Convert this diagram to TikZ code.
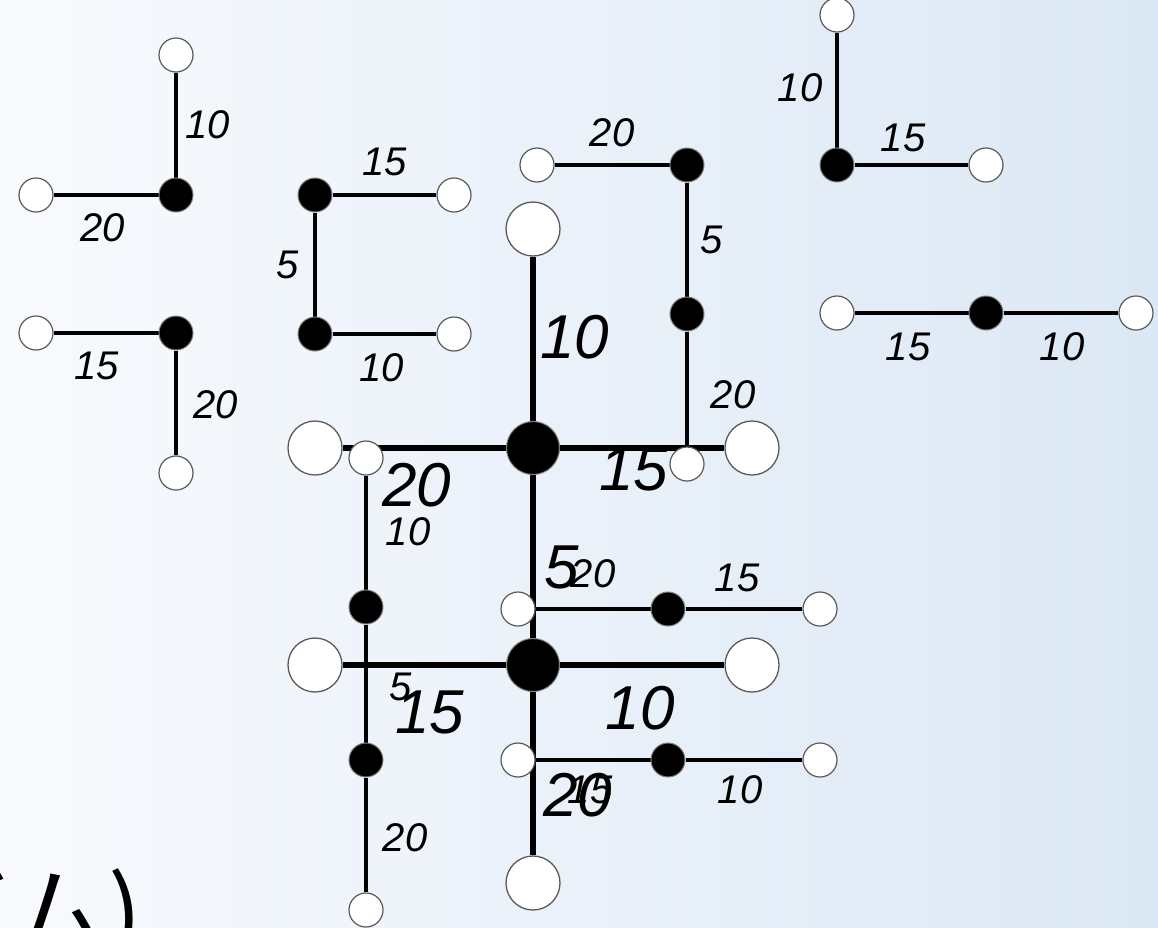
\documentclass[tikz,border=0pt]{standalone}
\usepackage{fontspec}
\setmainfont{Liberation Sans}
\newfontfamily\jpfont{Noto Sans CJK JP}
\pgfdeclarelayer{bg}
\pgfdeclarelayer{edges}
\pgfsetlayers{bg,edges,main}
\definecolor{bgleft}{RGB}{248,250,253}
\definecolor{bgright}{RGB}{220,232,245}
\begin{document}
\begin{tikzpicture}[x=1pt,y=-1pt,
  wn/.style={circle,fill=white,draw=black!65,line width=1.2pt,minimum size=34pt,inner sep=0pt},
  bn/.style={circle,fill=black,draw=black!50,line width=1pt,minimum size=34pt,inner sep=0pt},
  bigw/.style={circle,fill=white,draw=black!65,line width=1.3pt,minimum size=54pt,inner sep=0pt},
  bigb/.style={circle,fill=black,draw=black!50,line width=1pt,minimum size=53pt,inner sep=0pt},
  thinedge/.style={line width=3.3pt},
  thickedge/.style={line width=5.4pt},
  sl/.style={font=\fontsize{40}{48}\selectfont\itshape,inner sep=0pt},
  ll/.style={font=\fontsize{62}{70}\selectfont\itshape,inner sep=0pt}]
\useasboundingbox (0,0) rectangle (1158,927);
\clip (0,0) rectangle (1158,927);
\begin{pgfonlayer}{bg}
\shade[left color=bgleft,right color=bgright] (0,0) rectangle (1158,927);
\end{pgfonlayer}

% Japanese caption (cut off)
\node[anchor=base east,inner sep=0pt,font=\jpfont\fontsize{100}{110}\selectfont] (cap) at (143,950) {ズム)};

% tree 1
\node[wn] (a1) at (176,55) {};
\node[bn] (a2) at (176,195) {};
\node[wn] (a3) at (36,195) {};
\node[sl] (la1) at (208,125) {10};
\node[sl] (la2) at (103,228) {20};
% tree 2
\node[wn] (b1) at (36,333) {};
\node[bn] (b2) at (176,333) {};
\node[wn] (b3) at (176,473) {};
\node[sl] (lb1) at (97,366) {15};
\node[sl] (lb2) at (216,405) {20};
% tree 3
\node[bn] (c1) at (315,195) {};
\node[wn] (c2) at (454,195) {};
\node[bn] (c3) at (315,334) {};
\node[wn] (c4) at (454,334) {};
\node[sl] (lc1) at (385,162) {15};
\node[sl] (lc2) at (288,265) {5};
\node[sl] (lc3) at (382,368) {10};
% tree 4
\node[wn] (d1) at (837,15) {};
\node[bn] (d2) at (837,165) {};
\node[wn] (d3) at (986,165) {};
\node[sl] (ld1) at (800,88) {10};
\node[sl] (ld2) at (903,138) {15};
% tree 5
\node[wn] (e1) at (837,313) {};
\node[bn] (e2) at (986,313) {};
\node[wn] (e3) at (1136,313) {};
\node[sl] (le1) at (908,347) {15};
\node[sl] (le2) at (1062,347) {10};

% main graph
\node[bigw] (mT) at (533,229) {};
\node[bigb] (m1) at (533,448) {};
\node[bigb] (m2) at (533,665) {};
\node[bigw] (mB) at (533,883) {};
\node[bigw] (mL1) at (315,448) {};
\node[bigw] (mR1) at (752,448) {};
\node[bigw] (mL2) at (315,665) {};
\node[bigw] (mR2) at (752,665) {};

% overlay trees
\node[wn] (s1) at (366,458) {};
\node[bn] (k1) at (366,607) {};
\node[bn] (k2) at (366,760) {};
\node[wn] (s2) at (366,910) {};
\node[wn] (s3) at (537,165) {};
\node[bn] (k3) at (687,165) {};
\node[bn] (k4) at (687,314) {};
\node[wn] (s4) at (687,464) {};
\node[wn] (s5) at (518,609) {};
\node[bn] (k5) at (668,609) {};
\node[wn] (s6) at (820,609) {};
\node[wn] (s7) at (518,760) {};
\node[bn] (k6) at (668,760) {};
\node[wn] (s8) at (820,760) {};

\begin{pgfonlayer}{edges}
\draw[thinedge] (a1) -- (a2) -- (a3);
\draw[thinedge] (b1) -- (b2) -- (b3);
\draw[thinedge] (c2) -- (c1) -- (c3) -- (c4);
\draw[thinedge] (d1) -- (d2) -- (d3);
\draw[thinedge] (e1) -- (e2) -- (e3);
\draw[thickedge] (mT) -- (m1) -- (m2) -- (mB);
\draw[thickedge] (mL1) -- (m1) -- (mR1);
\draw[thickedge] (mL2) -- (m2) -- (mR2);
\draw[thinedge] (s1) -- (k1) -- (k2) -- (s2);
\draw[thinedge] (s3) -- (k3) -- (k4) -- (s4);
\draw[thinedge] (s5) -- (k5) -- (s6);
\draw[thinedge] (s7) -- (k6) -- (s8);
\end{pgfonlayer}

% labels
\node[ll] (L1) at (575,337) {10};
\node[ll] (L2) at (417,485) {20};
\node[ll] (L3) at (634,469) {15};
\node[ll] (L4) at (562,567) {5};
\node[ll] (L5) at (430,712) {15};
\node[ll] (L6) at (640,708) {10};
\node[ll] (L7) at (578,795) {20};
\node[sl] (l1) at (408,532) {10};
\node[sl] (l2) at (401,687) {5};
\node[sl] (l3) at (405,838) {20};
\node[sl] (l4) at (612,133) {20};
\node[sl] (l5) at (712,240) {5};
\node[sl] (l6) at (733,395) {20};
\node[sl] (l7) at (593,574) {20};
\node[sl] (l8) at (737,578) {15};
\node[sl] (l9) at (590,790) {15};
\node[sl] (l10) at (740,790) {10};
\end{tikzpicture}
\end{document}
